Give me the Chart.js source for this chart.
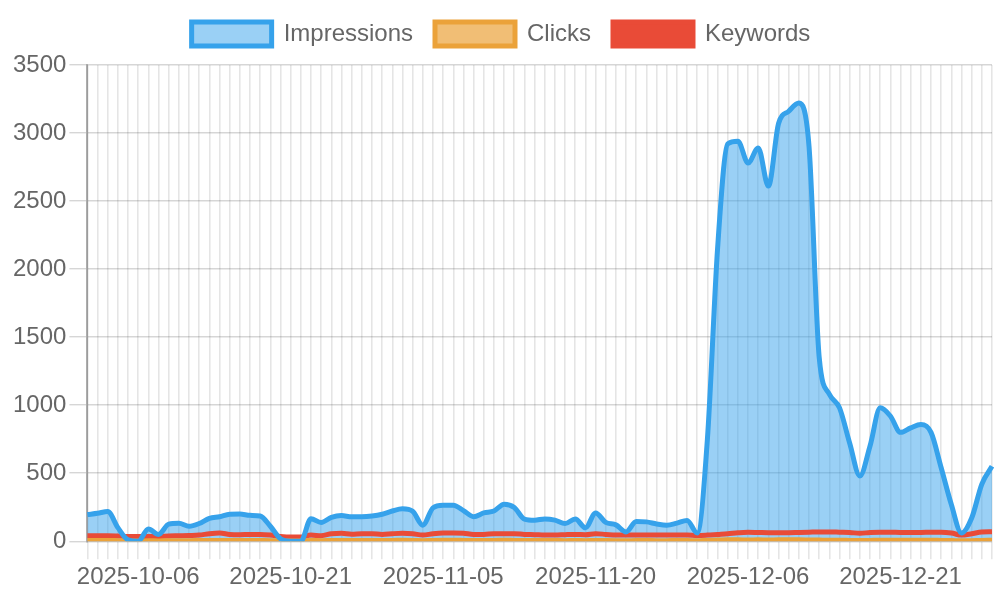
<!DOCTYPE html>
<html>
<head>
<meta charset="utf-8">
<script src="https://cdn.jsdelivr.net/npm/chart.js@4/dist/chart.umd.min.js"></script>
<style>
  html, body { margin: 0; padding: 0; background: #fff; }
  #wrap { width: 1000px; height: 600px; }
</style>
</head>
<body>
<div id="wrap"><canvas id="c" width="1000" height="600"></canvas></div>
<script>
// Dates (one day missing between 2025-11-20 and 2025-12-06)
const startDate = new Date(Date.UTC(2025, 9, 1));
const missingDate = '2025-11-27';
const labels = [];
for (let d = new Date(startDate); labels.length < 90; d.setUTCDate(d.getUTCDate() + 1)) {
  const s = d.toISOString().slice(0, 10);
  if (s !== missingDate) labels.push(s);
}

const impressions = [
  196, 205, 218, 100, 10, 0, 90, 50, 125, 132,
  110, 130, 168, 180, 198, 200, 190, 185, 110, 18,
  0, 0, 165, 138, 175, 188, 180, 180, 185, 198,
  222, 238, 220, 118, 245, 265, 265, 225, 180, 208,
  222, 272, 248, 162, 154, 164, 155, 130, 164, 98,
  208, 138, 120, 68, 145, 142, 127, 118, 133, 152,
  60, 750, 2150, 2920, 2940, 2780, 2890, 2610, 3070, 3160,
  3220, 2900, 1350, 1080, 980, 720, 480, 700, 980, 920,
  800, 833, 858, 800, 540, 270, 60, 170, 420, 550
];

const clicks = [
  5, 5, 6, 4, 2, 1, 3, 2, 4, 4,
  4, 5, 6, 6, 6, 6, 6, 5, 4, 2,
  1, 1, 5, 4, 5, 6, 6, 5, 5, 6,
  6, 7, 6, 4, 6, 7, 7, 6, 5, 6,
  6, 7, 6, 5, 5, 5, 5, 4, 5, 4,
  6, 5, 4, 3, 5, 5, 4, 4, 5, 5,
  3, 6, 8, 10, 10, 9, 10, 9, 10, 10,
  10, 9, 8, 7, 7, 6, 5, 6, 7, 7,
  7, 7, 7, 7, 6, 5, 3, 4, 6, 7
];

const keywords = [
  40, 40, 40, 38, 35, 35, 35, 35, 38, 40,
  42, 45, 55, 60, 50, 48, 50, 50, 45, 35,
  30, 30, 45, 40, 55, 58, 52, 55, 55, 50,
  55, 58, 55, 45, 55, 60, 60, 58, 50, 50,
  55, 55, 55, 50, 48, 45, 45, 48, 50, 48,
  55, 50, 45, 45, 45, 45, 45, 45, 45, 45,
  42, 45, 50, 55, 62, 66, 64, 62, 62, 62,
  64, 66, 68, 68, 66, 64, 58, 64, 66, 66,
  64, 64, 64, 66, 66, 60, 45, 55, 68, 70
];

const yTicks = [0, 500, 1000, 1500, 2000, 2500, 3000, 3500];

Chart.defaults.font.family = '"Liberation Sans", Arial, Helvetica, sans-serif';
Chart.defaults.font.size = 24;
Chart.defaults.color = '#666';

const legendGap = {
  id: 'legendGap',
  beforeInit(chart) {
    const originalFit = chart.legend.fit;
    chart.legend.fit = function fit() {
      originalFit.bind(chart.legend)();
      this.height += 9;
    };
  }
};

new Chart(document.getElementById('c'), {
  type: 'line',
  data: {
    labels: labels,
    datasets: [
      {
        label: 'Impressions',
        data: impressions,
        borderColor: '#36A2EB',
        backgroundColor: 'rgba(54,162,235,0.5)',
        borderWidth: 5,
        fill: 'origin',
        pointRadius: 0,
        cubicInterpolationMode: 'monotone'
      },
      {
        label: 'Clicks',
        data: clicks,
        borderColor: '#EBA23A',
        backgroundColor: 'rgba(235,162,58,0.7)',
        borderWidth: 5,
        fill: 'origin',
        pointRadius: 0,
        cubicInterpolationMode: 'monotone'
      },
      {
        label: 'Keywords',
        data: keywords,
        borderColor: '#E94B37',
        backgroundColor: '#E94B37',
        borderWidth: 5,
        fill: false,
        pointRadius: 0,
        cubicInterpolationMode: 'monotone'
      }
    ]
  },
  plugins: [legendGap],
  options: {
    responsive: false,
    animation: false,
    layout: { padding: { left: 10, right: 8, top: 0, bottom: 4 } },
    plugins: {
      filler: { drawTime: 'beforeDatasetsDraw' },
      legend: {
        labels: { boxWidth: 80, boxHeight: 24, padding: 22 }
      },
      tooltip: { enabled: false }
    },
    scales: {
      x: {
        grid: { color: 'rgba(0,0,0,0.1)', lineWidth: 1.6, tickLength: 18 },
        border: { color: 'rgba(0,0,0,0.1)' },
        ticks: {
          autoSkip: false,
          maxRotation: 0,
          padding: 4,
          callback: function (v, i) { return i % 15 === 5 ? labels[i] : ''; }
        }
      },
      y: {
        min: yTicks[0],
        max: yTicks[yTicks.length - 1],
        grid: { color: 'rgba(0,0,0,0.16)', lineWidth: 1.4, tickLength: 18 },
        border: { color: 'rgba(0,0,0,0.32)', width: 2 },
        ticks: {
          stepSize: 500,
          padding: 3,
          callback: function (v) { return String(v); }
        }
      }
    }
  }
});
</script>
</body>
</html>
